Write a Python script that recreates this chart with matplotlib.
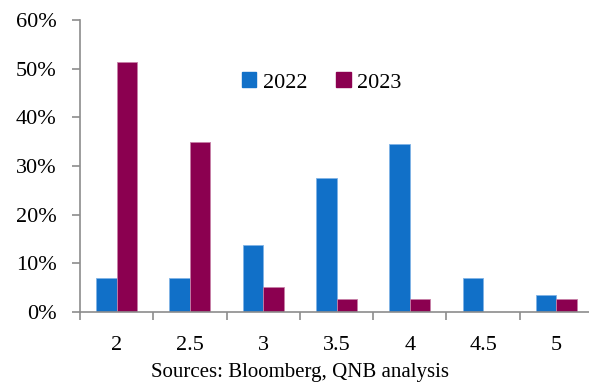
import numpy as np
import matplotlib.pyplot as plt
from matplotlib.patches import Patch

# policy rate bins and share of forecasts (%)
categories = ['2', '2.5', '3', '3.5', '4', '4.5', '5']
share_2022 = [6.9, 6.9, 13.8, 27.6, 34.5, 6.9, 3.4]
share_2023 = [51.3, 35.0, 5.1, 2.6, 2.6, 0.0, 2.6]
series_names = ['2022', '2023']

blue = '#1170C8'
maroon = '#8B0050'

plt.rcParams['font.family'] = ['Liberation Serif', 'DejaVu Serif']

fig = plt.figure(figsize=(5.89, 3.83), dpi=100)
ax = fig.add_axes([80/589, 71/383, 513/589, 292/383])

x = np.arange(len(categories))
w = 0.28
ax.bar(x - w/2, share_2022, w, color=blue, edgecolor='#7fb3e6', linewidth=0.6)
ax.bar(x + w/2, share_2023, w, color=maroon, edgecolor='#c77fa6', linewidth=0.6)

ax.set_xlim(-0.5, len(categories) - 0.5)
ax.set_ylim(0, 60)
ax.set_yticks(np.arange(0, 61, 10))
ax.set_yticklabels(['{}%'.format(v) for v in range(0, 61, 10)], fontsize=16)
ax.set_xticks(x)
ax.set_xticklabels(categories, fontsize=16)
ax.set_xticks(np.arange(-0.5, len(categories)), minor=True)
ax.tick_params(axis='x', which='major', length=0, pad=17)
ax.tick_params(axis='x', which='minor', length=6, width=1.2, color='#8c8c8c')
ax.tick_params(axis='y', length=6, width=1.2, color='#8c8c8c', pad=11)

for s in ['top', 'right']:
    ax.spines[s].set_visible(False)
for s in ['left', 'bottom']:
    ax.spines[s].set_color('#8c8c8c')
    ax.spines[s].set_linewidth(1.2)

handles = [Patch(color=blue), Patch(color=maroon)]
ax.legend(handles, series_names, ncol=2, frameon=False, fontsize=16,
          loc='center', bbox_to_anchor=(0.471, 0.786),
          handlelength=0.65, handleheight=0.65, handletextpad=0.3, columnspacing=1.3)

fig.text(300/589, 1 - 373/383, 'Sources: Bloomberg, QNB analysis', ha='center', va='center', fontsize=15)

fig.savefig('out.png', dpi=100)
